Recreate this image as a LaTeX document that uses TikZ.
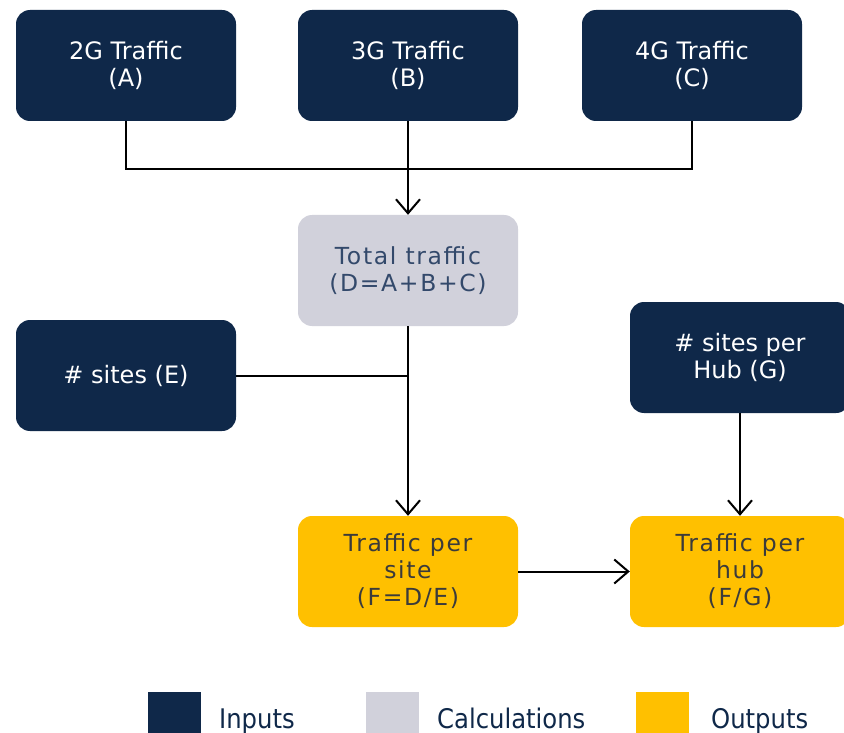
\documentclass[tikz,border=0pt]{standalone}
\usepackage{fontspec}
\setmainfont{DejaVu Sans}
\newfontfamily\spacedfont[LetterSpace=7]{DejaVu Sans}
\newfontfamily\legendfont{DejaVu Sans Condensed}
\usetikzlibrary{arrows.meta}
\definecolor{navy}{HTML}{0F2849}
\definecolor{calcgray}{HTML}{D1D1DB}
\definecolor{outyellow}{HTML}{FFC000}
\definecolor{calctext}{HTML}{33496B}
\definecolor{outtext}{HTML}{3B3B3B}
\begin{document}
\begin{tikzpicture}[x=1pt,y=-1pt,
  box/.style={rounded corners=14pt, minimum width=220pt, minimum height=111pt, align=center, inner sep=0pt,
    font=\fontsize{24}{27}\selectfont},
  inbox/.style={box, fill=navy, text=white},
  calcbox/.style={box, fill=calcgray, text=calctext, font=\fontsize{23.5}{27}\spacedfont},
  outbox/.style={box, fill=outyellow, text=outtext, font=\fontsize{23.5}{27}\spacedfont},
  conn/.style={line width=2pt, draw=black},
  arr/.style={conn, -{Straight Barb[length=14pt,width=24pt,line width=2pt]}},
  legsq/.style={minimum width=53pt, minimum height=45pt, inner sep=0pt},
  legtxt/.style={anchor=base west, inner sep=0pt, text=navy, font=\fontsize{27}{30}\legendfont}
]
\useasboundingbox (0,0) rectangle (844,733);
\node[inbox] (A) at (126,65.5) {2G Traffic\\(A)};
\node[inbox] (B) at (408,65.5) {3G Traffic\\(B)};
\node[inbox] (C) at (692,65.5) {4G Traffic\\(C)};
\node[calcbox] (D) at (408,270.5) {Total traffic\\(D=A+B+C)};
\node[inbox] (E) at (126,375.5) {\# sites (E)};
\node[inbox] (G) at (740,357.5) {\# sites per\\Hub (G)};
\node[outbox] (F) at (408,571.5) {Traffic per\\site\\(F=D/E)};
\node[outbox] (H) at (740,571.5) {Traffic per\\hub\\(F/G)};
\coordinate (j) at (408,169);
\draw[conn] (A.south) |- (j) -| (C.south);
\draw[arr] (B.south) -- (D.north);
\draw[conn] (E.east) -- (E.east -| D.south);
\draw[arr] (D.south) -- (F.north);
\draw[arr] (G.south) -- (H.north);
\draw[arr] (F.east) -- (H.west);
\node[legsq, fill=navy] (L1) at (174.5,714) {};
\node[legsq, fill=calcgray] (L2) at (392,714) {};
\node[legsq, fill=outyellow] (L3) at (662,714) {};
\node[legtxt] (T1) at (219,728) {Inputs};
\node[legtxt] (T2) at (437,728) {Calculations};
\node[legtxt] (T3) at (711,728) {Outputs};
\end{tikzpicture}
\end{document}
